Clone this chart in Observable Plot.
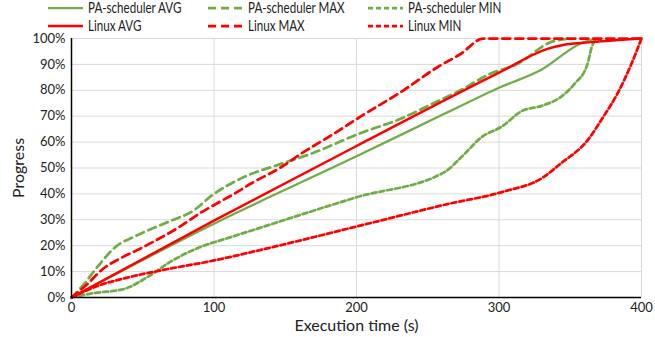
<!DOCTYPE html>
<html>
<head>
<meta charset="utf-8">
<script src="https://cdn.jsdelivr.net/npm/d3@7"></script>
<script src="https://cdn.jsdelivr.net/npm/@observablehq/plot@0.6"></script>
<style>
  body { margin: 0; background: #fff; font-family: Lato, sans-serif; }
  #wrap { position: relative; width: 655px; height: 337px; }
  #legend { position: relative; height: 30px; }
  .item { position: absolute; display: flex; align-items: center; height: 16px; line-height: 16px; font-size: 14.5px; color: #222; white-space: nowrap; }
  .item svg { margin-right: 5px; }
  .item span { display: inline-block; transform: scaleX(0.8); transform-origin: left center; }
</style>
</head>
<body>
<div id="wrap">
  <div id="legend"></div>
  <div id="chart"></div>
</div>
<script>
// Series names and styles
const seriesNames = ["PA-scheduler AVG", "PA-scheduler MAX", "PA-scheduler MIN", "Linux AVG", "Linux MAX", "Linux MIN"];
const seriesColors = ["#70AD47", "#70AD47", "#70AD47", "#FF0000", "#FF0000", "#FF0000"];
const seriesDash = ["none", "8,5", "5,3", "none", "8,5", "5,3"];
const seriesWidth = [2.25, 2.75, 2.75, 2.5, 2.75, 2.75];

// Values: [execution time (s), progress (%)]
const paAvg = [[0,0],[100,28.5],[200,54.5],[262,71],[300,81],[330,88],[357,98],[368,100]];
const paMax = [[0,0],[9,5.3],[18,11.7],[32,20],[44,23.5],[70,29.7],[84,33],[100,40],[119,46],[147,51.6],[168,55.5],[203,63.5],[231,69],[254,75],[273,80],[294,86.4],[313,90.2],[336,98.5],[350,100]];
const paMin = [[0,0],[16,1.7],[37,3.3],[53,7.8],[70,14],[90,19.4],[110,23],[130,26.5],[200,38.7],[262,48.5],[275,55],[288,62],[302,66],[316,72],[330,74],[343,77.3],[353,82.5],[362,90],[365,96.5],[368,100]];
const linuxAvg = [[0,0],[100,29.7],[200,58.5],[300,86.8],[334,96],[345,97.5],[365,98.6],[400,100]];
const linuxMax = [[0,0],[10,4.6],[22,11],[36,15.6],[45,18],[57,21.4],[75,27],[90,32.5],[101,36],[114,40],[126,44],[147,50.3],[161,55.5],[184,63.2],[203,69.9],[233,80],[257,89],[273,94],[289,100],[400,100]];
const linuxMin = [[0,0],[16,4],[40,7.8],[63,10.5],[100,14.3],[133,18.4],[200,27.4],[265,36.2],[302,40.7],[331,46.4],[343,51.6],[362,60.6],[373,69.6],[383,78.6],[392,89],[400,100]];

const xTicks = [0, 100, 200, 300, 400];
const yTicks = [0, 10, 20, 30, 40, 50, 60, 70, 80, 90, 100];

const allSeries = [paAvg, paMax, paMin, linuxAvg, linuxMax, linuxMin];

// Legend (HTML, above the SVG)
const legendPos = [[48, 8], [208, 8], [368, 8], [48, 26], [208, 26], [368, 26]];
const legend = document.getElementById("legend");
seriesNames.forEach((name, i) => {
  const item = document.createElement("div");
  item.className = "item";
  item.style.left = legendPos[i][0] + "px";
  item.style.top = (legendPos[i][1] - 8) + "px";
  const dash = seriesDash[i] === "none" ? "" : ` stroke-dasharray="${seriesDash[i]}"`;
  item.innerHTML = `<svg width="35" height="12"><line x1="0" x2="35" y1="6" y2="6" stroke="${seriesColors[i]}" stroke-width="${seriesWidth[i]}"${dash}/></svg><span>${name}</span>`;
  legend.appendChild(item);
});

const font = "Lato, sans-serif";
const marks = [
  Plot.gridX(xTicks.slice(1), {stroke: "#d9d9d9", strokeOpacity: 1, strokeWidth: 1}),
  Plot.gridY(yTicks.slice(1), {stroke: "#d9d9d9", strokeOpacity: 1, strokeWidth: 1}),
  Plot.axisX(xTicks, {tickSize: 0, tickPadding: 5, fontSize: 13, label: "Execution time (s)", labelAnchor: "center", labelArrow: "none", labelOffset: 33}),
  Plot.axisY(yTicks, {tickSize: 0, tickPadding: 6, fontSize: 13, tickFormat: d => d + "%", label: "Progress", labelAnchor: "center", labelArrow: "none", labelOffset: 59}),
];
allSeries.forEach((s, i) => {
  marks.push(Plot.line(s, {
    x: d => d[0], y: d => d[1],
    stroke: seriesColors[i],
    strokeWidth: seriesWidth[i],
    strokeDasharray: seriesDash[i] === "none" ? null : seriesDash[i],
    curve: "monotone-x"
  }));
});
marks.push(Plot.ruleX([0], {stroke: "#000", strokeWidth: 1.5}));
marks.push(Plot.ruleY([0], {stroke: "#000", strokeWidth: 1.5}));

const chart = Plot.plot({
  width: 655,
  height: 307,
  marginLeft: 71,
  marginRight: 14,
  marginTop: 8,
  marginBottom: 40,
  x: {domain: [0, 400]},
  y: {domain: [0, 100]},
  style: {fontFamily: font, fontSize: "13px", color: "#222", background: "#fff", overflow: "visible"},
  marks
});
chart.querySelectorAll("[aria-label='x-axis label'] text, [aria-label='y-axis label'] text").forEach(t => t.style.fontSize = "16px");
document.getElementById("chart").appendChild(chart);
</script>
</body>
</html>
